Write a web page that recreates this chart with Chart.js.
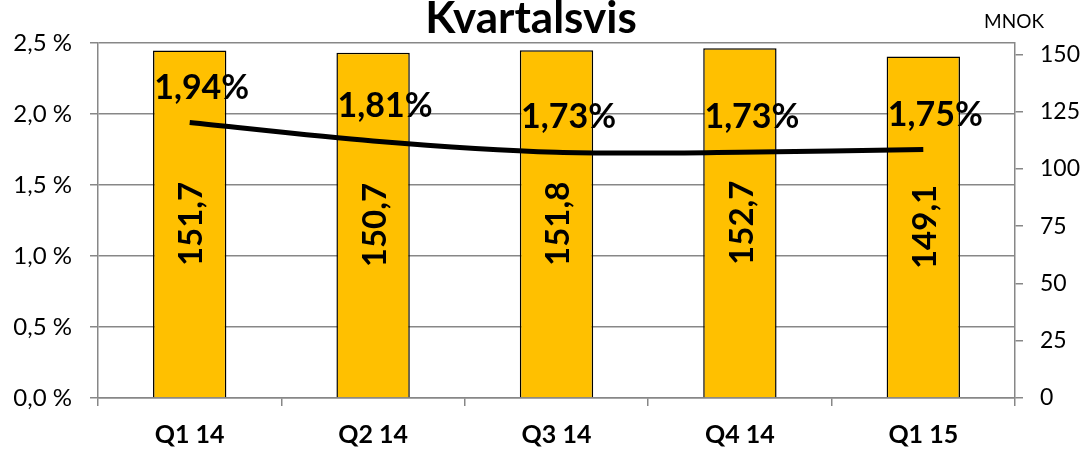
<!DOCTYPE html>
<html>
<head>
<meta charset="utf-8">
<script src="https://cdn.jsdelivr.net/npm/chart.js@4/dist/chart.umd.min.js"></script>
<style>
  html, body { margin: 0; padding: 0; background: #fff; }
  #wrap { width: 1084px; height: 452px; }
</style>
</head>
<body>
<div id="wrap"><canvas id="chart" width="1084" height="452"></canvas></div>
<script>
/* ---------- data ---------- */
const quarters = ["Q1 14", "Q2 14", "Q3 14", "Q4 14", "Q1 15"];
const mnok = [151.7, 150.7, 151.8, 152.7, 149.1];        // bars, right axis
const ratePct = [1.94, 1.81, 1.73, 1.73, 1.75];          // line, left axis
const leftTicks = [0, 0.5, 1.0, 1.5, 2.0, 2.5];
const rightTicks = [0, 25, 50, 75, 100, 125, 150];

const FONT = "Lato, 'Open Sans', sans-serif";
const GRID = "#878787";
const fmt = (v, d) => v.toFixed(d).replace(".", ",");

/* ---------- labels + title plugin ---------- */
const labelsPlugin = {
  id: "labels",
  afterDatasetsDraw(chart) {
    const ctx = chart.ctx;
    ctx.save();
    ctx.fillStyle = "#000";

    // bar values, rotated inside bars
    const barMeta = chart.getDatasetMeta(1);
    ctx.font = "bold 33px " + FONT;
    ctx.textAlign = "center";
    ctx.textBaseline = "middle";
    barMeta.data.forEach((bar, i) => {
      ctx.save();
      ctx.translate(bar.x + 2, (bar.y + bar.base) / 2);
      ctx.rotate(-Math.PI / 2);
      ctx.fillText(fmt(mnok[i], 1), 0, 0);
      ctx.restore();
    });

    // line values above points
    const lineMeta = chart.getDatasetMeta(0);
    ctx.font = "bold 34px " + FONT;
    ctx.textBaseline = "alphabetic";
    lineMeta.data.forEach((pt, i) => {
      ctx.fillText(fmt(ratePct[i], 2) + "%", pt.x + 12, pt.y - 24);
    });

    // title and unit
    ctx.font = "bold 44px " + FONT;
    ctx.fillText("Kvartalsvis", 531, 33);
    ctx.font = "19px " + FONT;
    ctx.fillText("MNOK", 1014, 28);
    ctx.restore();
  }
};

/* ---------- chart ---------- */
new Chart(document.getElementById("chart"), {
  data: {
    labels: quarters,
    datasets: [
      {
        type: "line",
        data: ratePct,
        yAxisID: "y",
        borderColor: "#000",
        borderWidth: 5,
        pointRadius: 0,
        tension: 0.3,
        order: 1
      },
      {
        type: "bar",
        data: mnok,
        yAxisID: "y1",
        backgroundColor: "#FFC000",
        borderColor: "#000",
        borderWidth: 1.5,
        barPercentage: 0.4,
        categoryPercentage: 1,
        order: 2
      }
    ]
  },
  options: {
    responsive: false,
    animation: false,
    layout: { padding: { top: 43, left: 0, right: 0, bottom: 0 } },
    plugins: { legend: { display: false }, tooltip: { enabled: false } },
    scales: {
      x: {
        grid: { offset: true, drawOnChartArea: false, color: GRID, lineWidth: 1.5, tickLength: 8 },
        border: { color: GRID, width: 1.5 },
        ticks: { color: "#000", font: { family: FONT, size: 25, weight: "bold" }, padding: 14 },
        afterFit(s) { s.height = 54; }
      },
      y: {
        position: "left",
        min: 0, max: 2.5,
        afterBuildTicks(s) { s.ticks = leftTicks.map(v => ({ value: v })); },
        grid: { color: GRID, lineWidth: 1.5, tickLength: 8 },
        border: { color: GRID, width: 1.5 },
        ticks: {
          color: "#000", padding: 18,
          font: { family: FONT, size: 24 },
          callback: v => fmt(v, 1) + " %"
        },
        afterFit(s) { s.width = 98; }
      },
      y1: {
        position: "right",
        min: 0, max: 155,
        afterBuildTicks(s) { s.ticks = rightTicks.map(v => ({ value: v })); },
        grid: { drawOnChartArea: false, color: GRID, lineWidth: 1.5, tickLength: 8 },
        border: { color: GRID, width: 1.5 },
        ticks: { color: "#000", padding: 17, font: { family: FONT, size: 23 } },
        afterFit(s) { s.width = 69; }
      }
    }
  },
  plugins: [labelsPlugin]
});
</script>
</body>
</html>
